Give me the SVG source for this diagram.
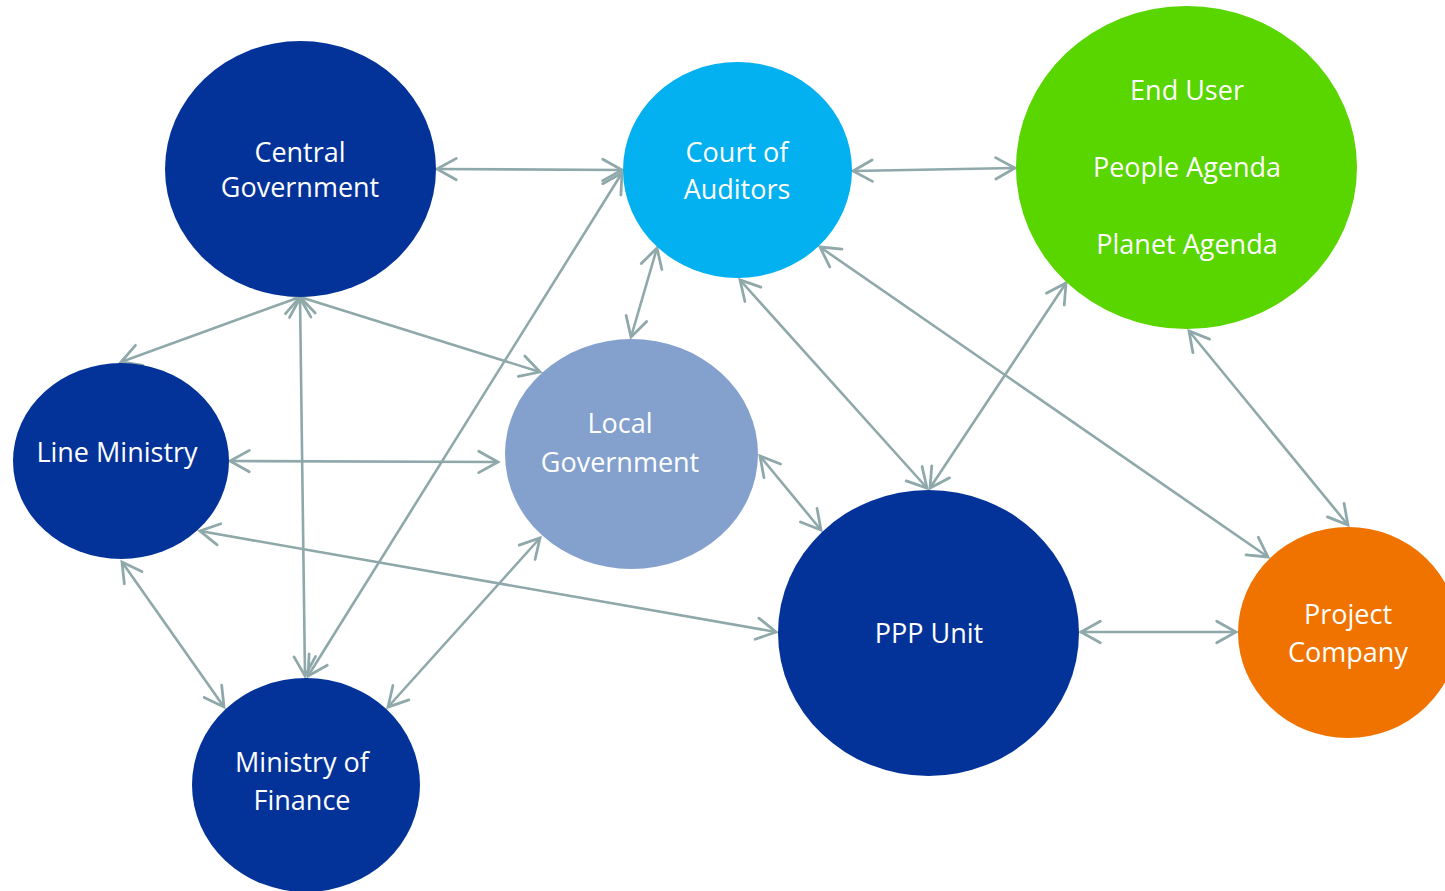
<svg xmlns="http://www.w3.org/2000/svg" width="1445" height="891" viewBox="0 0 1445 891">
<defs>
<marker id="ah" markerUnits="userSpaceOnUse" markerWidth="30" markerHeight="30" viewBox="-22 -14 26 28" refX="0" refY="0" orient="auto-start-reverse">
<path d="M -18 -10 L 0 0 L -18 10" fill="none" stroke="#8fa8aa" stroke-width="2.6" stroke-linecap="round" stroke-linejoin="miter"/>
</marker>
</defs>
<style>
.n text{font-family:"Open Sans","Liberation Sans",sans-serif;font-size:27px;fill:#ffffff;text-anchor:middle}
.c line{stroke:#8fa8aa;stroke-width:2.6;marker-start:url(#ah);marker-end:url(#ah)}
.dk{fill:#033399}
</style>
<rect width="1445" height="891" fill="#ffffff"/>
<g id="connectors" class="c">
<line x1="437" y1="169" x2="622" y2="170"/>
<line x1="853" y1="171" x2="1015" y2="168"/>
<line x1="300" y1="297" x2="121" y2="362"/>
<line x1="300" y1="297" x2="540" y2="372"/>
<line x1="300" y1="298" x2="305" y2="676"/>
<line x1="622" y1="173" x2="308" y2="676"/>
<line x1="657" y1="248" x2="631" y2="337"/>
<line x1="230" y1="461" x2="498" y2="462"/>
<line x1="200" y1="531" x2="776" y2="632"/>
<line x1="122" y1="562" x2="224" y2="707"/>
<line x1="540" y1="538" x2="388" y2="707"/>
<line x1="760" y1="456" x2="821" y2="530"/>
<line x1="740" y1="280" x2="927" y2="488"/>
<line x1="1066" y1="283" x2="930" y2="488"/>
<line x1="820" y1="247" x2="1268" y2="557"/>
<line x1="1189" y1="331" x2="1348" y2="525"/>
<line x1="1081" y1="632" x2="1236" y2="632"/>
</g>
<g id="central-government" class="n">
<ellipse cx="300.5" cy="169" rx="135.5" ry="128" class="dk"/>
<text x="300" y="162">Central</text>
<text x="300" y="197">Government</text>
</g>
<g id="court-of-auditors" class="n">
<ellipse cx="737.5" cy="170" rx="114.5" ry="108" fill="#03b0f0"/>
<text x="737" y="162">Court of</text>
<text x="737" y="199">Auditors</text>
</g>
<g id="end-user" class="n">
<ellipse cx="1186.5" cy="167.5" rx="170.5" ry="161.5" fill="#59d500"/>
<text x="1187" y="100">End User</text>
<text x="1187" y="177">People Agenda</text>
<text x="1187" y="254">Planet Agenda</text>
</g>
<g id="line-ministry" class="n">
<ellipse cx="121" cy="461" rx="108" ry="98" class="dk"/>
<text x="117" y="462">Line Ministry</text>
</g>
<g id="local-government" class="n">
<ellipse cx="631.5" cy="454" rx="126.5" ry="115" fill="#84a1ce"/>
<text x="620" y="433">Local</text>
<text x="620" y="472">Government</text>
</g>
<g id="ppp-unit" class="n">
<ellipse cx="928.5" cy="633" rx="150.5" ry="143" class="dk"/>
<text x="929" y="643">PPP Unit</text>
</g>
<g id="project-company" class="n">
<ellipse cx="1348" cy="632.5" rx="110" ry="105.5" fill="#f07300"/>
<text x="1348" y="624">Project</text>
<text x="1348" y="662">Company</text>
</g>
<g id="ministry-of-finance" class="n">
<ellipse cx="306" cy="785" rx="114" ry="107" class="dk"/>
<text x="302" y="772">Ministry of</text>
<text x="302" y="810">Finance</text>
</g>
</svg>
